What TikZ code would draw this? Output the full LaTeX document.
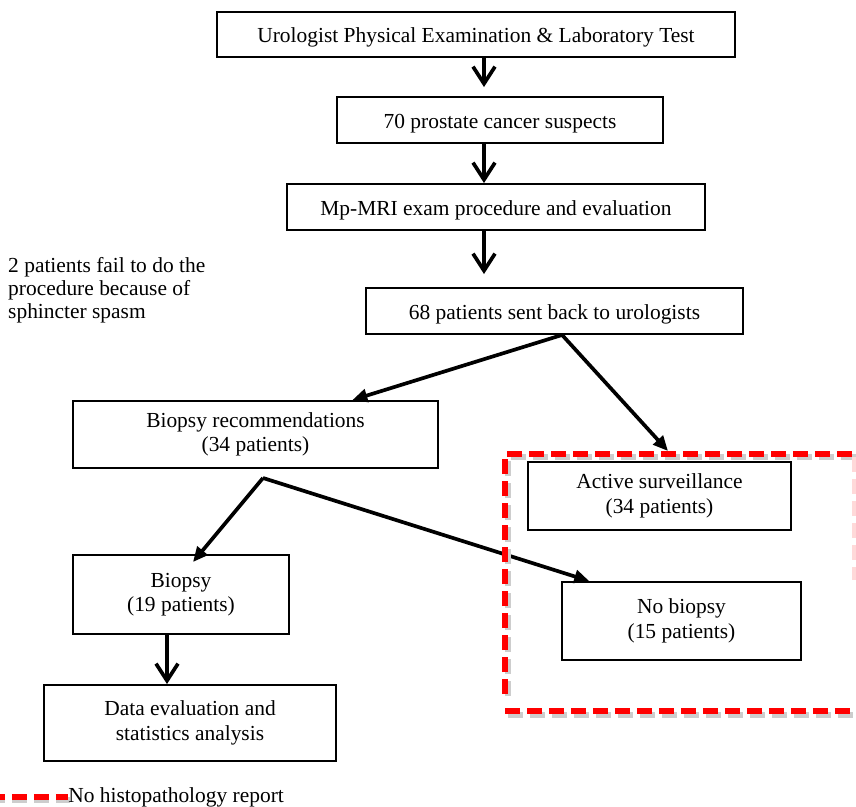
\documentclass[tikz,border=0pt]{standalone}
\usepackage{fontspec}
\setmainfont{Liberation Serif}
\usepackage{tikz}
\usetikzlibrary{arrows.meta, positioning, calc}
\definecolor{nohisto}{RGB}{255,0,0}
\definecolor{shadowgray}{RGB}{205,205,205}

\begin{document}
\begin{tikzpicture}[x=0.02cm, y=-0.02cm,
  font=\fontsize{12.2}{14}\selectfont,
  stage/.style={draw, line width=1.1pt, align=center, inner sep=2pt,
                execute at begin node={\rule{0pt}{11.8pt}}},
  down/.style={-{Straight Barb[length=3.4mm, width=4.4mm, line width=2.1pt]}, line width=2pt},
  split/.style={-{Triangle[length=3mm, width=2.6mm]}, line width=2.1pt},
  redline/.style={nohisto, line width=3pt, dash pattern=on 0.3cm off 0.14cm},
  shadowline/.style={shadowgray, line width=3pt, dash pattern=on 0.3cm off 0.14cm}]
  \useasboundingbox (0,0) rectangle (856,807);
  % flow boxes
  \node[stage, minimum width=10.36cm, minimum height=0.9cm] (exam) at (476,34.5)
    {Urologist Physical Examination \& Laboratory Test};
  \node[stage, minimum width=6.52cm, minimum height=0.92cm] (suspect) at (500,120)
    {70 prostate cancer suspects};
  \node[stage, minimum width=8.36cm, minimum height=0.92cm] (mri) at (496,207)
    {Mp-MRI exam procedure and evaluation};
  \node[stage, minimum width=7.54cm, minimum height=0.92cm] (back) at (554.5,311)
    {68 patients sent back to urologists};
  \node[stage, minimum width=7.3cm, minimum height=1.34cm] (rec) at (255.5,434.5)
    {Biopsy recommendations\\(34 patients)};
  \node[stage, minimum width=5.26cm, minimum height=1.36cm] (active) at (659.5,496)
    {Active surveillance\\(34 patients)};
  \node[stage, minimum width=4.78cm, minimum height=1.56cm] (nobiopsy) at (681.5,621)
    {No biopsy\\(15 patients)};
  \node[stage, minimum width=4.32cm, minimum height=1.58cm] (biopsy) at (181,594.5)
    {Biopsy\\(19 patients)};
  \node[stage, minimum width=5.84cm, minimum height=1.52cm] (data) at (190,723)
    {Data evaluation and\\statistics analysis};
  \node[align=left, anchor=west, font=\fontsize{12.2}{13.1}\selectfont] (fail) at (2,290)
    {2 patients fail to do the\\procedure because of\\sphincter spasm};
  % vertical arrows
  \coordinate (axis) at (484,0);
  \coordinate (axisb) at (167,0);
  \draw[down, shorten >=0.18cm] (exam.south -| axis) -- (suspect.north -| axis);
  \draw[down] (suspect.south -| axis) -- (mri.north -| axis);
  \draw[down, shorten >=0.26cm] (mri.south -| axis) -- (back.north -| axis);
  \draw[down] (biopsy.south -| axisb) -- (data.north -| axisb);
  % branching arrows
  \coordinate (fork1) at ($(back.south west)!0.52!(back.south east)$);
  \coordinate (fork2) at (263,478);
  \coordinate (toactive) at (668,451);
  \draw[split] (fork1) -- ($(rec.north west)!0.764!(rec.north east)$);
  \draw[split] (fork1) -- (toactive);
  \draw[split] (fork2) -- ($(biopsy.north west)!0.555!(biopsy.north east)+(0,8)$);
  \draw[split] (fork2) -- ($(nobiopsy.north west)!0.117!(nobiopsy.north east)$);
  % no histopathology region
  \draw[shadowline] (508,696) -- (508,457) -- (864,457);
  \draw[shadowline] (508,715) -- (864,715);
  \draw[redline] (505,694) -- (505,454) -- (860,454);
  \draw[redline] (505,711) -- (860,711);
  \draw[shadowline, nohisto!15] (855,457) -- (855,580);
  % legend
  \draw[shadowline] (-10,800) -- (70,800);
  \draw[redline] (-10,797) -- (68,797);
  \node[anchor=west, inner sep=0pt] (legend) at (68,797) {No histopathology report};
\end{tikzpicture}
\end{document}
